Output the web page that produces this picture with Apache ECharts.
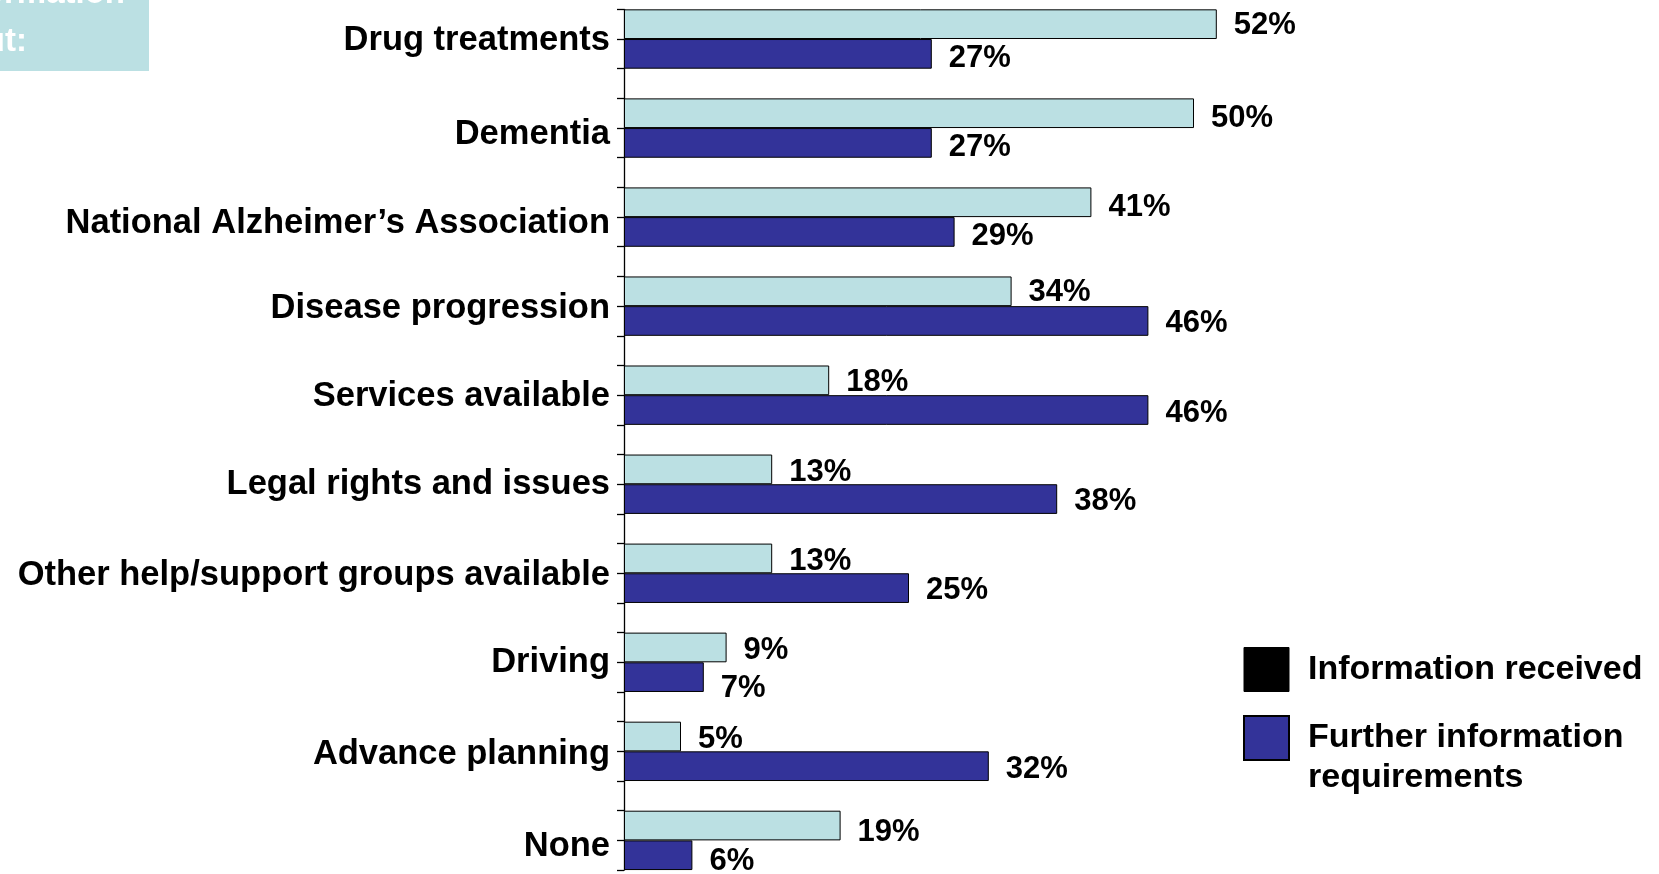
<!DOCTYPE html>
<html>
<head>
<meta charset="utf-8">
<script src="https://cdn.jsdelivr.net/npm/echarts@6/dist/echarts.min.js"></script>
<style>
html,body{margin:0;padding:0;background:#fff;}
#chart{width:1659px;height:874px;}
</style>
</head>
<body>
<div id="chart"></div>
<script>
const categories = [
  'Drug treatments',
  'Dementia',
  'National Alzheimer\u2019s Association',
  'Disease progression',
  'Services available',
  'Legal rights and issues',
  'Other help/support groups available',
  'Driving',
  'Advance planning',
  'None'
];
const seriesNames = ['Information received', 'Further information requirements'];
const received = [52, 50, 41, 34, 18, 13, 13, 9, 5, 19];
const further = [27, 27, 29, 46, 46, 38, 25, 7, 32, 6];
const boxTitle = ['Information', 'about:'];

// layout-only nudges (px) reproducing the slightly uneven label placement of the original slide
const catLabelNudge = [1, 6, 6, 2, 1, 0, 2, 0, 3, 6];
const recvLabelNudge = [1, 5, 5, 1, 2, 3, 3, 3, 3, 7];
const furtherLabelNudge = [5, 5, 5, 2, 3, 2, 2, 11, 3, 6];

const FONT = '"Liberation Sans", Arial, Helvetica, sans-serif';
const tickSlots = Array.from({length: 30}, () => '');

const chart = echarts.init(document.getElementById('chart'), null, {renderer: 'canvas'});

const labelCfg = {
  show: true,
  position: 'right',
  distance: 17,
  formatter: '{c}%',
  color: '#000',
  fontFamily: FONT,
  fontWeight: 'bold',
  fontSize: 31
};

function barData(values, nudges) {
  return values.map((v, i) => ({value: v, label: {offset: [0, nudges[i]]}}));
}

const catRich = {};
catLabelNudge.forEach((n, i) => {
  catRich['p' + i] = {
    color: '#000', fontFamily: FONT, fontWeight: 'bold', fontSize: 34.5,
    padding: [n * 2, 0, 0, 0]
  };
});

chart.setOption({
  backgroundColor: '#fff',
  animation: false,
  grid: [
    {left: 624, top: -5.5, width: 912, height: 890.4, containLabel: false, outerBoundsMode: 'none'},
    {left: 624, top: 9.3, width: 912, height: 860.7, containLabel: false, outerBoundsMode: 'none'}
  ],
  xAxis: [
    {type: 'value', gridIndex: 0, min: 0, max: 80, show: false},
    {type: 'value', gridIndex: 1, min: 0, max: 80, show: false}
  ],
  yAxis: [
    {
      type: 'category', gridIndex: 0, inverse: true, data: categories,
      axisLine: {show: false}, axisTick: {show: false}, splitLine: {show: false},
      axisLabel: {
        show: true, margin: 14, color: '#000', fontFamily: FONT,
        fontWeight: 'bold', fontSize: 34.5, interval: 0,
        formatter: function (value, idx) {
          return '{p' + idx + '|' + value + '}';
        },
        rich: catRich
      }
    },
    {
      type: 'category', gridIndex: 1, inverse: true, data: tickSlots, boundaryGap: false,
      axisLine: {show: true, lineStyle: {color: '#000', width: 1.3}},
      axisTick: {show: true, interval: 0, length: 7, inside: false, lineStyle: {color: '#000', width: 1.3}},
      axisLabel: {show: false, interval: 0},
      splitLine: {show: false}
    }
  ],
  legend: {
    orient: 'vertical',
    left: 1243, top: 647,
    padding: 0,
    icon: 'rect',
    itemWidth: 45, itemHeight: 44,
    itemGap: -14,
    selectedMode: false,
    formatter: function (name) {
      return name === seriesNames[1] ? ' \nFurther information\nrequirements' : name;
    },
    textStyle: {
      color: '#000', fontFamily: FONT, fontWeight: 'bold', fontSize: 34,
      lineHeight: 40, padding: [0, 0, 0, 14]
    },
    data: [
      {name: seriesNames[0], itemStyle: {color: '#000', borderColor: '#000', borderWidth: 1}},
      {name: seriesNames[1]}
    ]
  },
  graphic: [
    {type: 'rect', left: 0, top: 0, shape: {x: 0, y: 0, width: 149, height: 71}, style: {fill: '#BBE0E3'}, z: 10},
    {type: 'text', x: 125, y: -6, z: 11, style: {text: boxTitle[0], fill: '#fff', align: 'right', verticalAlign: 'middle', font: 'bold 33px ' + FONT}},
    {type: 'text', x: 27, y: 42, z: 11, style: {text: boxTitle[1], fill: '#fff', align: 'right', verticalAlign: 'middle', font: 'bold 33px ' + FONT}}
  ],
  series: [
    {
      name: seriesNames[0], type: 'bar', xAxisIndex: 0, yAxisIndex: 0,
      data: barData(received, recvLabelNudge),
      barGap: '0%', barCategoryGap: '33.33%',
      itemStyle: {color: '#BBE0E3', borderColor: '#000', borderWidth: 1},
      label: labelCfg,
      emphasis: {disabled: true}
    },
    {
      name: seriesNames[1], type: 'bar', xAxisIndex: 0, yAxisIndex: 0,
      data: barData(further, furtherLabelNudge),
      barGap: '0%', barCategoryGap: '33.33%',
      itemStyle: {color: '#333399', borderColor: '#000', borderWidth: 1},
      label: labelCfg,
      emphasis: {disabled: true}
    }
  ]
});
</script>
</body>
</html>
